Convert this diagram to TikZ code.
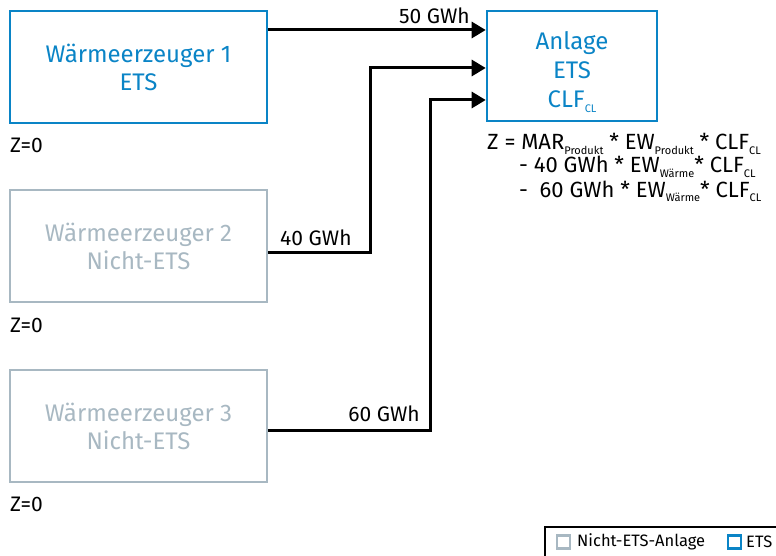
\documentclass[tikz,border=0pt]{standalone}
\usepackage{fontspec}
\setmainfont{Fira Sans}
\usetikzlibrary{arrows.meta}
\definecolor{etsblue}{HTML}{0A84C6}
\definecolor{nongray}{HTML}{A8B8C2}
\newcommand{\lowsub}[1]{\raisebox{-0.35ex}{\fontsize{11}{11}\selectfont #1}}
\tikzset{
  etsbox/.style={draw=etsblue, line width=2.6pt, text=etsblue, font=\fontsize{24}{28}\selectfont, align=center, inner sep=0pt},
  nonbox/.style={draw=nongray, line width=2.6pt, text=nongray, font=\fontsize{24}{28}\selectfont, align=center, inner sep=0pt},
  flow/.style={line width=3pt, -{Triangle[length=14pt,width=16pt]}},
  lbl/.style={font=\fontsize{21}{21}\selectfont, inner sep=0pt},
  formula/.style={font=\fontsize{22}{22}\selectfont, inner sep=0pt, anchor=base west},
}
\begin{document}
\begin{tikzpicture}[x=1pt,y=-1pt]
\useasboundingbox (0,0) rectangle (776,556);
% boxes
\node[etsbox, minimum width=257pt, minimum height=112pt] (w1) at (138.5,67) {Wärmeerzeuger 1\\ETS};
\node[nonbox, minimum width=257pt, minimum height=112pt] (w2) at (138.5,246) {Wärmeerzeuger 2\\Nicht-ETS};
\node[nonbox, minimum width=257pt, minimum height=112pt] (w3) at (138.5,426) {Wärmeerzeuger 3\\Nicht-ETS};
\node[etsbox, minimum width=170pt, minimum height=110pt] (an) at (572,66) {};
\node[text=etsblue, font=\fontsize{24}{29}\selectfont, align=center, inner sep=0pt] (antext) at (572,72) {Anlage\\ETS\\CLF\lowsub{CL}};
% Z=0 labels
\node[lbl, anchor=base west] (z1) at (10,153) {Z=0};
\node[lbl, anchor=base west] (z2) at (10,332) {Z=0};
\node[lbl, anchor=base west] (z3) at (10,511) {Z=0};
% connectors
\coordinate (e1) at (an.west |- 0,30);
\coordinate (e2) at (an.west |- 0,68);
\coordinate (e3) at (an.west |- 0,100);
\coordinate (s1) at (w1.east |- 0,30);
\coordinate (s2) at (w2.east |- 0,252);
\coordinate (s3) at (w3.east |- 0,430);
\draw[flow] (s1) -- (e1);
\draw[flow] (s2) -| (370,68) -- (e2);
\draw[flow] (s3) -| (430,100) -- (e3);
\node[lbl, anchor=base east] (l50) at (470,24) {50 GWh};
\node[lbl, anchor=base west] (l40) at (280,245) {40 GWh};
\node[lbl, anchor=base east] (l60) at (420,421) {60 GWh};
% formula
\node[formula] (f1) at (487,150) {Z = MAR\lowsub{Produkt} * EW\lowsub{Produkt} * CLF\lowsub{CL}};
\node[formula] (f2) at (519,173) {- 40 GWh * EW\lowsub{Wärme}* CLF\lowsub{CL}};
\node[formula] (f3) at (519,197) {-\ \ 60 GWh * EW\lowsub{Wärme}* CLF\lowsub{CL}};
% legend
\draw[line width=1.3pt] (545,560) -- (545,527) -- (780,527);
\node[draw=nongray, line width=2.2pt, minimum size=13pt, inner sep=0pt] (lg1) at (563.5,542) {};
\node[lbl, anchor=west, font=\fontsize{16.5}{16.5}\selectfont] (lt1) at (577,542) {Nicht-ETS-Anlage};
\node[draw=etsblue, line width=2.2pt, minimum size=13pt, inner sep=0pt] (lg2) at (734.5,542) {};
\node[lbl, anchor=west, font=\fontsize{16.5}{16.5}\selectfont] (lt2) at (746,542) {ETS};
\end{tikzpicture}
\end{document}
